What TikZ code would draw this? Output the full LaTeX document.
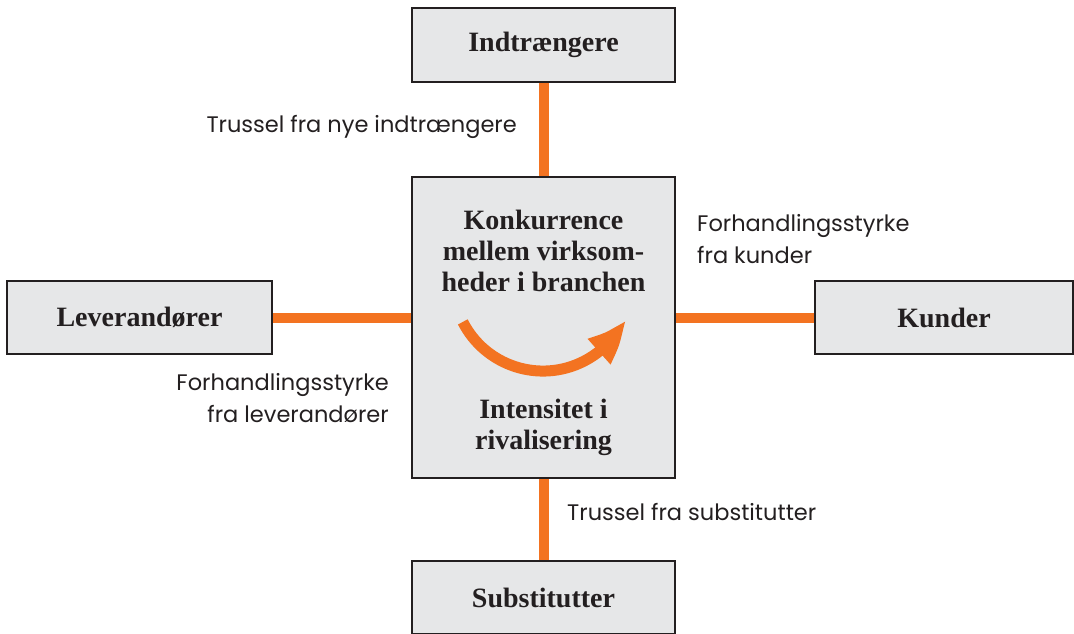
\documentclass[tikz,border=0pt]{standalone}
\usepackage{fontspec}
\setmainfont{Liberation Serif}
\newfontfamily\labelfont{Poppins}
\usetikzlibrary{arrows.meta,bending,backgrounds}

\definecolor{forceorange}{RGB}{243,115,33}
\definecolor{boxgray}{RGB}{230,231,232}
\definecolor{boxline}{RGB}{35,31,32}

\begin{document}
\begin{tikzpicture}[x=1pt,y=-1pt,
  force/.style={draw=boxline, line width=2.4pt, fill=boxgray, inner sep=0pt,
    font=\bfseries\fontsize{28}{31}\selectfont, text=boxline},
  link/.style={draw=forceorange, line width=10pt},
  lbl/.style={font=\labelfont\fontsize{22.5}{32}\selectfont, text=boxline, inner sep=0pt},
  heading/.style={font=\bfseries\fontsize{28}{31}\selectfont, text=boxline,
    align=center, inner sep=0pt}]
\useasboundingbox (0,0) rectangle (1074,633);
\clip (0,0) rectangle (1074,633);

% the five forces
\node[force, minimum width=263pt, minimum height=74pt] (entrants) at (543.5,45) {Indtrængere};
\node[force, minimum width=263pt, minimum height=301pt] (rivalry) at (543.5,327.5) {};
\node[force, minimum width=265pt, minimum height=73pt] (suppliers) at (139.5,317.5) {Leverandører};
\node[force, minimum width=258pt, minimum height=73pt] (buyers) at (944,317.5) {Kunder};
\node[force, minimum width=263pt, minimum height=73pt] (substitutes) at (543.5,597.5) {Substitutter};

% text inside the central box
\node[heading] (rivalrytop) at (543.5,251) {Konkurrence\\mellem virksom-\\heder i branchen};
\node[heading] (rivalrybottom) at (543.5,427) {Intensitet i\\rivalisering};

% curved arrow in the middle
\draw[forceorange, line width=11pt, -{Triangle[width=31pt,length=42pt,bend]}]
  (462.8,321.9) arc[start angle=153, end angle=25, radius=90];

% connectors behind the boxes
\begin{scope}[on background layer]
  \draw[link] (entrants.south) -- (rivalry.north);
  \draw[link] (rivalry.south) -- (substitutes.north);
  \draw[link] (suppliers.east) -- (suppliers.east -| rivalry.west);
  \draw[link] (buyers.west -| rivalry.east) -- (buyers.west);
\end{scope}

% connector labels
\node[lbl, anchor=east] (entrantslbl) at (517,127) {Trussel fra nye indtrængere};
\node[lbl, anchor=west, align=left] (buyerslbl) at (697,239) {Forhandlingsstyrke\\fra kunder};
\node[lbl, anchor=east, align=right] (supplierslbl) at (389,398) {Forhandlingsstyrke\\fra leverandører};
\node[lbl, anchor=west] (substituteslbl) at (567,512) {Trussel fra substitutter};
\end{tikzpicture}
\end{document}
